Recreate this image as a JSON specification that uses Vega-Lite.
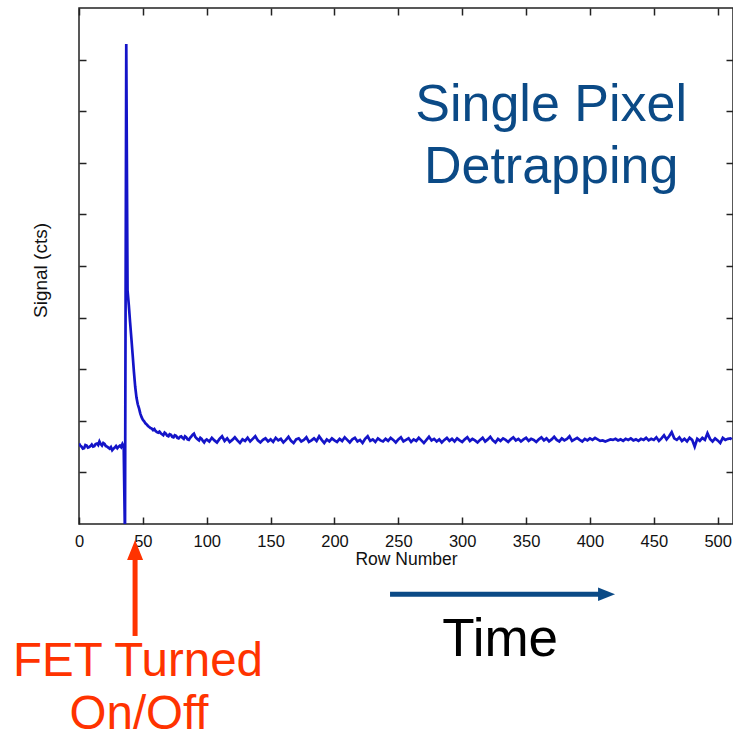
{
  "$schema": "https://vega.github.io/schema/vega-lite/v6.json",
  "autosize": {"type": "none"},
  "padding": {"left": 79, "top": 8, "right": 0, "bottom": 212},
  "width": 654,
  "height": 516,
  "background": "white",
  "config": {"view": {"stroke": "#222222", "strokeWidth": 1.5}, "font": "Liberation Sans"},
  "datasets": {
    "signal": [
      {"r":0,"s":156},{"r":1,"s":152},{"r":2,"s":150},{"r":3,"s":146},{"r":4,"s":147},{"r":5,"s":153},{"r":6,"s":152},{"r":7,"s":148},{"r":8,"s":149},{"r":9,"s":151},{"r":10,"s":154},{"r":11,"s":150},{"r":12,"s":151},{"r":13,"s":155},{"r":14,"s":156},{"r":15,"s":153},{"r":16,"s":160},{"r":17,"s":155},{"r":18,"s":152},{"r":19,"s":157},{"r":20,"s":155},{"r":21,"s":151},{"r":22,"s":150},{"r":23,"s":148},{"r":24,"s":146},{"r":25,"s":149},{"r":26,"s":143},{"r":27,"s":146},{"r":28,"s":148},{"r":29,"s":151},{"r":30,"s":147},{"r":31,"s":150},{"r":32,"s":152},{"r":33,"s":149},{"r":34,"s":155},{"r":35,"s":150},{"r":36,"s":-30},{"r":37,"s":930},{"r":38,"s":453},{"r":39,"s":424},{"r":40,"s":391},{"r":41,"s":360},{"r":42,"s":328},{"r":43,"s":295},{"r":44,"s":266},{"r":45,"s":245},{"r":46,"s":232},{"r":47,"s":224},{"r":48,"s":214},{"r":49,"s":207},{"r":50,"s":202},{"r":51,"s":199},{"r":52,"s":195},{"r":53,"s":193},{"r":54,"s":190},{"r":55,"s":188},{"r":56,"s":186},{"r":57,"s":185},{"r":58,"s":182},{"r":59,"s":184},{"r":60,"s":180},{"r":61,"s":178},{"r":62,"s":177},{"r":63,"s":179},{"r":64,"s":176},{"r":65,"s":174},{"r":66,"s":172},{"r":67,"s":177},{"r":68,"s":175},{"r":69,"s":171},{"r":70,"s":170},{"r":71,"s":174},{"r":72,"s":173},{"r":73,"s":169},{"r":74,"s":168},{"r":75,"s":172},{"r":76,"s":171},{"r":77,"s":167},{"r":78,"s":166},{"r":79,"s":169},{"r":80,"s":170},{"r":81,"s":167},{"r":82,"s":165},{"r":83,"s":170},{"r":84,"s":168},{"r":85,"s":164},{"r":86,"s":163},{"r":87,"s":167},{"r":88,"s":170},{"r":89,"s":173},{"r":90,"s":175},{"r":91,"s":169},{"r":92,"s":166},{"r":93,"s":164},{"r":94,"s":162},{"r":95,"s":167},{"r":96,"s":165},{"r":97,"s":161},{"r":98,"s":158},{"r":99,"s":162},
      {"r":100,"s":164},{"r":102,"s":160},{"r":104,"s":167},{"r":106,"s":162},{"r":108,"s":158},{"r":110,"s":165},{"r":112,"s":170},{"r":114,"s":161},{"r":116,"s":166},{"r":118,"s":159},{"r":120,"s":163},{"r":122,"s":168},{"r":124,"s":162},{"r":126,"s":157},{"r":128,"s":164},{"r":130,"s":161},{"r":132,"s":167},{"r":134,"s":160},{"r":136,"s":165},{"r":138,"s":170},{"r":140,"s":162},{"r":142,"s":158},{"r":144,"s":163},{"r":146,"s":166},{"r":148,"s":160},{"r":150,"s":164},{"r":152,"s":159},{"r":154,"s":167},{"r":156,"s":162},{"r":158,"s":165},{"r":160,"s":158},{"r":162,"s":163},{"r":164,"s":169},{"r":166,"s":161},{"r":168,"s":157},{"r":170,"s":164},{"r":172,"s":166},{"r":174,"s":160},{"r":176,"s":163},{"r":178,"s":168},{"r":180,"s":159},{"r":182,"s":162},{"r":184,"s":166},{"r":186,"s":161},{"r":188,"s":170},{"r":190,"s":163},{"r":192,"s":157},{"r":194,"s":164},{"r":196,"s":160},{"r":198,"s":166},
      {"r":200,"s":162},{"r":202,"s":159},{"r":204,"s":165},{"r":206,"s":161},{"r":208,"s":168},{"r":210,"s":163},{"r":212,"s":158},{"r":214,"s":164},{"r":216,"s":167},{"r":218,"s":160},{"r":220,"s":163},{"r":222,"s":157},{"r":224,"s":165},{"r":226,"s":170},{"r":228,"s":161},{"r":230,"s":164},{"r":232,"s":159},{"r":234,"s":166},{"r":236,"s":162},{"r":238,"s":160},{"r":240,"s":165},{"r":242,"s":161},{"r":244,"s":167},{"r":246,"s":163},{"r":248,"s":158},{"r":250,"s":164},{"r":252,"s":168},{"r":254,"s":160},{"r":256,"s":163},{"r":258,"s":166},{"r":260,"s":159},{"r":262,"s":164},{"r":264,"s":161},{"r":266,"s":167},{"r":268,"s":162},{"r":270,"s":157},{"r":272,"s":163},{"r":274,"s":169},{"r":276,"s":162},{"r":278,"s":165},{"r":280,"s":160},{"r":282,"s":164},{"r":284,"s":158},{"r":286,"s":163},{"r":288,"s":167},{"r":290,"s":161},{"r":292,"s":165},{"r":294,"s":160},{"r":296,"s":166},{"r":298,"s":162},
      {"r":300,"s":159},{"r":302,"s":164},{"r":304,"s":168},{"r":306,"s":161},{"r":308,"s":165},{"r":310,"s":162},{"r":312,"s":158},{"r":314,"s":163},{"r":316,"s":167},{"r":318,"s":160},{"r":320,"s":164},{"r":322,"s":169},{"r":324,"s":162},{"r":326,"s":158},{"r":328,"s":165},{"r":330,"s":161},{"r":332,"s":166},{"r":334,"s":163},{"r":336,"s":159},{"r":338,"s":164},{"r":340,"s":168},{"r":342,"s":162},{"r":344,"s":165},{"r":346,"s":160},{"r":348,"s":164},{"r":350,"s":167},{"r":352,"s":161},{"r":354,"s":165},{"r":356,"s":163},{"r":358,"s":159},{"r":360,"s":164},{"r":362,"s":168},{"r":364,"s":162},{"r":366,"s":166},{"r":368,"s":160},{"r":370,"s":164},{"r":372,"s":169},{"r":374,"s":163},{"r":376,"s":160},{"r":378,"s":166},{"r":380,"s":162},{"r":382,"s":165},{"r":384,"s":170},{"r":386,"s":161},{"r":388,"s":164},{"r":390,"s":167},{"r":392,"s":163},{"r":394,"s":160},{"r":396,"s":165},{"r":398,"s":162},
      {"r":400,"s":166},{"r":402,"s":163},{"r":404,"s":167},{"r":406,"s":164},{"r":408,"s":161},{"r":410,"s":162},{"r":412,"s":160},{"r":414,"s":162},{"r":416,"s":164},{"r":418,"s":163},{"r":420,"s":165},{"r":422,"s":162},{"r":424,"s":164},{"r":426,"s":161},{"r":428,"s":165},{"r":430,"s":163},{"r":432,"s":166},{"r":434,"s":162},{"r":436,"s":164},{"r":438,"s":161},{"r":440,"s":165},{"r":442,"s":163},{"r":444,"s":167},{"r":446,"s":162},{"r":448,"s":165},{"r":450,"s":163},{"r":452,"s":168},{"r":454,"s":161},{"r":456,"s":166},{"r":458,"s":172},{"r":460,"s":164},{"r":462,"s":170},{"r":464,"s":178},{"r":466,"s":166},{"r":468,"s":163},{"r":470,"s":168},{"r":472,"s":161},{"r":474,"s":165},{"r":476,"s":160},{"r":478,"s":167},{"r":480,"s":163},{"r":482,"s":150},{"r":484,"s":165},{"r":486,"s":161},{"r":488,"s":167},{"r":490,"s":163},{"r":492,"s":176},{"r":494,"s":165},{"r":496,"s":160},{"r":498,"s":166},{"r":500,"s":162},{"r":502,"s":157},{"r":504,"s":167},{"r":506,"s":163},{"r":508,"s":165},{"r":510,"s":166},{"r":511,"s":164}
    ]
  },
  "layer": [
    {
      "data": {"name": "signal"},
      "mark": {"type": "line", "color": "#1414c8", "strokeWidth": 2.7, "clip": true},
      "encoding": {
        "x": {"field": "r", "type": "quantitative", "scale": {"domain": [0, 512], "nice": false, "zero": false},
          "axis": {"orient": "bottom", "values": [0,50,100,150,200,250,300,350,400,450,500], "tickSize": -7, "tickWidth": 1.5, "tickColor": "#222222", "domain": false, "grid": false, "labelFlush": false, "labelFontSize": 16.5, "labelColor": "#111111", "labelPadding": 16, "title": "Row Number", "titleFontSize": 17.5, "titleFontWeight": "normal", "titleColor": "#111111", "titlePadding": 1}},
        "y": {"field": "s", "type": "quantitative", "scale": {"domain": [0, 1000], "nice": false, "zero": false},
          "axis": {"orient": "left", "values": [100,200,300,400,500,600,700,800,900], "tickSize": -7, "tickWidth": 1.5, "tickColor": "#222222", "domain": false, "grid": false, "labels": false, "title": "Signal (cts)", "titleFontSize": 19, "titleFontWeight": "normal", "titleColor": "#111111", "titleAngle": -90, "titleX": -39, "titleY": 262, "titleAlign": "center", "titleBaseline": "middle"}}
      }
    },
    {
      "data": {"name": "signal"},
      "mark": {"type": "line", "opacity": 0},
      "encoding": {
        "x": {"field": "r", "type": "quantitative", "scale": {"domain": [0, 512], "nice": false, "zero": false},
          "axis": {"orient": "top", "values": [0,50,100,150,200,250,300,350,400,450,500], "tickSize": -7, "tickWidth": 1.5, "tickColor": "#222222", "domain": false, "grid": false, "labels": false, "title": null}},
        "y": {"field": "s", "type": "quantitative", "scale": {"domain": [0, 1000], "nice": false, "zero": false},
          "axis": {"orient": "right", "values": [100,200,300,400,500,600,700,800,900], "tickSize": -7, "tickWidth": 1.5, "tickColor": "#222222", "domain": false, "grid": false, "labels": false, "title": null}}
      }
    },
    {
      "data": {"values": [{"r": 369.6, "v": 781, "label": "Single Pixel"}, {"r": 369.6, "v": 661, "label": "Detrapping"}]},
      "mark": {"type": "text", "align": "center", "baseline": "alphabetic", "fontSize": 52, "color": "#0b4a86", "font": "Liberation Sans"},
      "encoding": {
        "x": {"field": "r", "type": "quantitative", "scale": {"domain": [0, 512], "nice": false, "zero": false}, "axis": null},
        "y": {"field": "v", "type": "quantitative", "scale": {"domain": [0, 1000], "nice": false, "zero": false}, "axis": null},
        "text": {"field": "label"}
      }
    },
    {
      "data": {"values": [{"r": 329.7, "v": -256, "label": "Time"}]},
      "mark": {"type": "text", "align": "center", "baseline": "alphabetic", "fontSize": 53, "color": "#000000", "font": "Liberation Sans"},
      "encoding": {
        "x": {"field": "r", "type": "quantitative", "scale": {"domain": [0, 512], "nice": false, "zero": false}, "axis": null},
        "y": {"field": "v", "type": "quantitative", "scale": {"domain": [0, 1000], "nice": false, "zero": false}, "axis": null},
        "text": {"field": "label"}
      }
    },
    {
      "data": {"values": [{"r": 46.2, "v": -295, "label": "FET Turned"}, {"r": 47, "v": -397, "label": "On/Off"}]},
      "mark": {"type": "text", "align": "center", "baseline": "alphabetic", "fontSize": 47.5, "color": "#ff3300", "font": "Liberation Sans"},
      "encoding": {
        "x": {"field": "r", "type": "quantitative", "scale": {"domain": [0, 512], "nice": false, "zero": false}, "axis": null},
        "y": {"field": "v", "type": "quantitative", "scale": {"domain": [0, 1000], "nice": false, "zero": false}, "axis": null},
        "text": {"field": "label"}
      }
    },
    {
      "data": {"values": [{"r": 43.9, "v": -66, "v2": -217}]},
      "mark": {"type": "rule", "color": "#ff3300", "strokeWidth": 5},
      "encoding": {
        "x": {"field": "r", "type": "quantitative", "scale": {"domain": [0, 512], "nice": false, "zero": false}, "axis": null},
        "y": {"field": "v", "type": "quantitative", "scale": {"domain": [0, 1000], "nice": false, "zero": false}, "axis": null},
        "y2": {"field": "v2"}
      }
    },
    {
      "data": {"values": [{"r": 43.9, "v": -50.4}]},
      "mark": {"type": "point", "shape": "M0,-1.25L1,1.25L-1,1.25Z", "filled": true, "size": 256, "color": "#ff3300", "opacity": 1},
      "encoding": {
        "x": {"field": "r", "type": "quantitative", "scale": {"domain": [0, 512], "nice": false, "zero": false}, "axis": null},
        "y": {"field": "v", "type": "quantitative", "scale": {"domain": [0, 1000], "nice": false, "zero": false}, "axis": null}
      }
    },
    {
      "data": {"values": [{"r": 243.5, "r2": 408, "v": -136}]},
      "mark": {"type": "rule", "color": "#0b4a86", "strokeWidth": 5},
      "encoding": {
        "x": {"field": "r", "type": "quantitative", "scale": {"domain": [0, 512], "nice": false, "zero": false}, "axis": null},
        "x2": {"field": "r2"},
        "y": {"field": "v", "type": "quantitative", "scale": {"domain": [0, 1000], "nice": false, "zero": false}, "axis": null}
      }
    },
    {
      "data": {"values": [{"r": 413, "v": -136}]},
      "mark": {"type": "point", "shape": "M-1,-0.8L1,0L-1,0.8Z", "filled": true, "size": 289, "color": "#0b4a86", "opacity": 1},
      "encoding": {
        "x": {"field": "r", "type": "quantitative", "scale": {"domain": [0, 512], "nice": false, "zero": false}, "axis": null},
        "y": {"field": "v", "type": "quantitative", "scale": {"domain": [0, 1000], "nice": false, "zero": false}, "axis": null}
      }
    }
  ],
  "resolve": {"axis": {"x": "independent", "y": "independent"}}
}
